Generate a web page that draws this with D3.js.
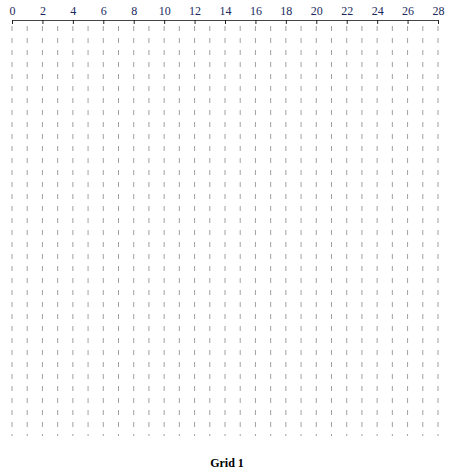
<!DOCTYPE html><html><head><script src="https://cdn.jsdelivr.net/npm/d3@7"></script>
<style>body{margin:0;background:#fff}</style></head><body><svg id="c" width="455" height="472"></svg>
<script>
const tickValues=[0,2,4,6,8,10,12,14,16,18,20,22,24,26,28];
const gridValues=d3.range(0,29);
const title="Grid 1";
const svg=d3.select("#c");
const x=d3.scaleLinear().domain([0,28]).range([12,438]);
const yTop=20,yBot=436;
svg.selectAll("line.g").data(gridValues).join("line").attr("class","g")
 .attr("x1",d=>x(d)).attr("x2",d=>x(d)).attr("y1",yTop+6).attr("y2",yBot)
 .attr("stroke","#888").attr("stroke-width",0.8).attr("stroke-dasharray","5,7");
const ax=svg.append("g").attr("transform",`translate(0,${yTop})`)
 .call(d3.axisTop(x).tickValues(tickValues).tickSize(-4).tickPadding(6).tickSizeOuter(0));
ax.select(".domain").attr("stroke","#444").attr("stroke-width",1.2);
ax.selectAll(".tick line").attr("stroke","#222");
ax.selectAll("text").attr("font-family","Liberation Serif").attr("font-size",12).attr("fill","#1a2a5e").attr("dy","0.1em");
svg.append("text").attr("x",227).attr("y",467).attr("text-anchor","middle")
 .attr("font-family","Liberation Serif").attr("font-weight","bold").attr("font-size",12).text(title);
</script></body></html>
